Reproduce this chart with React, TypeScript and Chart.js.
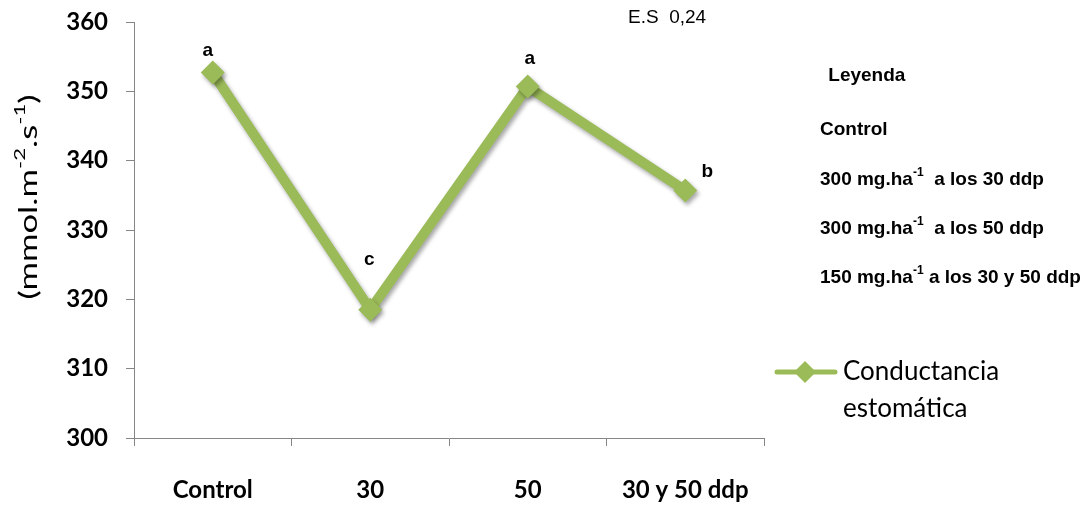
import React, { useEffect, useRef } from "react";
import { Chart, registerables } from "chart.js";

Chart.register(...registerables);

// ---- data ----
const categories = ["Control", "30", "50", "30 y 50 ddp"];
const conductancia = [352.7, 318.5, 350.7, 335.7];
const seriesLabel = "Conductancia estomática";
const significance = ["a", "c", "a", "b"];
const yMin = 300;
const yMax = 360;
const yStep = 10;
const esText = "E.S  0,24";
const legendTitle = "Leyenda";
type Seg = { t: string; sup?: boolean };
const yTitle: Seg[] = [{ t: "(mmol.m" }, { t: "-2", sup: true }, { t: ".s" }, { t: "-1", sup: true }, { t: ")" }];
const treatmentNotes: Seg[][] = [
  [{ t: "Control" }],
  [{ t: "300 mg.ha" }, { t: "-1", sup: true }, { t: "  a los 30 ddp" }],
  [{ t: "300 mg.ha" }, { t: "-1", sup: true }, { t: "  a los 50 ddp" }],
  [{ t: "150 mg.ha" }, { t: "-1", sup: true }, { t: " a los 30 y 50 ddp" }],
];

// ---- styles ----
const GREEN = "#9BBB59";
const AXIS = "#868686";
const LABEL_FONT = "Lato, 'Open Sans', sans-serif";
const ARIAL = "'Liberation Sans', Arial, sans-serif";
const letterOffsets = [
  [-5, -22],
  [-1, -50],
  [2, -28],
  [22, -19],
];

function drawRich(ctx: CanvasRenderingContext2D, segs: Seg[], x: number, y: number, size: number, weight: string, family: string) {
  let cx = x;
  for (const s of segs) {
    if (s.sup) {
      ctx.font = `${weight} ${Math.round(size * 0.62)}px ${family}`;
      ctx.fillText(s.t, cx, y - size * 0.38);
    } else {
      ctx.font = `${weight} ${size}px ${family}`;
      ctx.fillText(s.t, cx, y);
    }
    cx += ctx.measureText(s.t).width;
  }
  return cx - x;
}

function measureRich(ctx: CanvasRenderingContext2D, segs: Seg[], size: number, weight: string, family: string) {
  let w = 0;
  for (const s of segs) {
    ctx.font = s.sup ? `${weight} ${Math.round(size * 0.62)}px ${family}` : `${weight} ${size}px ${family}`;
    w += ctx.measureText(s.t).width;
  }
  return w;
}

const extrasPlugin = {
  id: "extras",
  beforeDatasetDraw(chart: any) {
    const ctx = chart.ctx;
    ctx.save();
    ctx.shadowColor = "rgba(0,0,0,0.35)";
    ctx.shadowBlur = 4;
    ctx.shadowOffsetX = 2;
    ctx.shadowOffsetY = 3;
  },
  afterDatasetDraw(chart: any) {
    chart.ctx.restore();
  },
  afterDraw(chart: any) {
    const ctx: CanvasRenderingContext2D = chart.ctx;
    const meta = chart.getDatasetMeta(0);
    ctx.save();
    ctx.fillStyle = "#000";
    // significance letters
    ctx.font = `bold 19px ${ARIAL}`;
    ctx.textAlign = "center";
    ctx.textBaseline = "middle";
    meta.data.forEach((pt: any, i: number) => {
      const [dx, dy] = letterOffsets[i];
      ctx.fillText(significance[i], pt.x + dx, pt.y + dy);
    });

    // y-axis title
    ctx.save();
    ctx.translate(29, 197);
    ctx.rotate(-Math.PI / 2);
    ctx.textAlign = "left";
    ctx.textBaseline = "middle";
    const tw = measureRich(ctx, yTitle, 25, "normal", LABEL_FONT);
    const stretch = 205 / tw;
    ctx.scale(stretch, 1);
    drawRich(ctx, yTitle, -tw / 2, 0, 25, "normal", LABEL_FONT);
    ctx.restore();

    // notes
    ctx.textAlign = "left";
    ctx.textBaseline = "middle";
    ctx.font = `normal 19px ${ARIAL}`;
    ctx.fillText(esText, 628, 18);
    ctx.font = `bold 19px ${ARIAL}`;
    ctx.fillText(" " + legendTitle, 823, 76);
    const noteY = [130, 180, 229, 278];
    treatmentNotes.forEach((segs, i) => drawRich(ctx, segs, 820, noteY[i], 19, "bold", ARIAL));

    // series legend
    const ds = chart.data.datasets[0];
    ctx.strokeStyle = ds.borderColor;
    ctx.lineWidth = 5;
    ctx.lineCap = "round";
    ctx.beginPath();
    ctx.moveTo(777, 372);
    ctx.lineTo(835, 372);
    ctx.stroke();
    ctx.fillStyle = ds.borderColor;
    ctx.beginPath();
    ctx.moveTo(805, 361);
    ctx.lineTo(816, 372);
    ctx.lineTo(805, 383);
    ctx.lineTo(794, 372);
    ctx.closePath();
    ctx.fill();
    ctx.fillStyle = "#000";
    ctx.font = `normal 26px ${LABEL_FONT}`;
    ctx.textBaseline = "middle";
    const words = String(ds.label).split(" ");
    ctx.fillText(words[0], 843, 372);
    ctx.fillText(words.slice(1).join(" "), 843, 409);
    ctx.restore();
  },
};

export default function App() {
  const ref = useRef<HTMLCanvasElement | null>(null);
  useEffect(() => {
    if (!ref.current) return;
    const chart = new Chart(ref.current, {
      type: "line",
      data: {
        labels: categories,
        datasets: [
          {
            label: seriesLabel,
            data: conductancia,
            borderColor: GREEN,
            backgroundColor: GREEN,
            borderWidth: 10,
            pointStyle: "rectRot",
            pointRadius: 12,
            pointBackgroundColor: GREEN,
            pointBorderWidth: 0,
            tension: 0,
            clip: false as any,
          },
        ],
      },
      options: {
        animation: false,
        responsive: false,
        devicePixelRatio: 1,
        layout: { padding: { left: 0, right: 326, top: 22, bottom: 0 } },
        plugins: { legend: { display: false }, tooltip: { enabled: false } },
        scales: {
          x: {
            type: "category",
            offset: true,
            grid: { display: true, offset: true, drawOnChartArea: false, color: AXIS, tickLength: 8, lineWidth: 1 },
            border: { display: true, color: AXIS, width: 1 },
            ticks: { color: "#000", font: { family: LABEL_FONT, size: 24, weight: "bold" }, padding: 30, maxRotation: 0, autoSkip: false },
            afterFit(scale: any) {
              scale.height = 68;
              scale.paddingLeft = 0;
              scale.paddingRight = 0;
            },
          },
          y: {
            min: yMin,
            max: yMax,
            grid: { display: true, drawOnChartArea: false, color: AXIS, tickLength: 8, lineWidth: 1 },
            border: { display: true, color: AXIS, width: 1 },
            ticks: { stepSize: yStep, color: "#000", font: { family: LABEL_FONT, size: 24, weight: "bold" }, padding: 18 },
            afterFit(scale: any) {
              scale.width = 134;
              scale.paddingTop = 0;
              scale.paddingBottom = 0;
            },
          },
        },
      },
      plugins: [extrasPlugin],
    });
    return () => chart.destroy();
  }, []);
  return (
    <div style={{ position: "fixed", left: 0, top: 0, width: 1090, height: 506, background: "#fff" }}>
      <canvas ref={ref} width={1090} height={506} />
    </div>
  );
}
